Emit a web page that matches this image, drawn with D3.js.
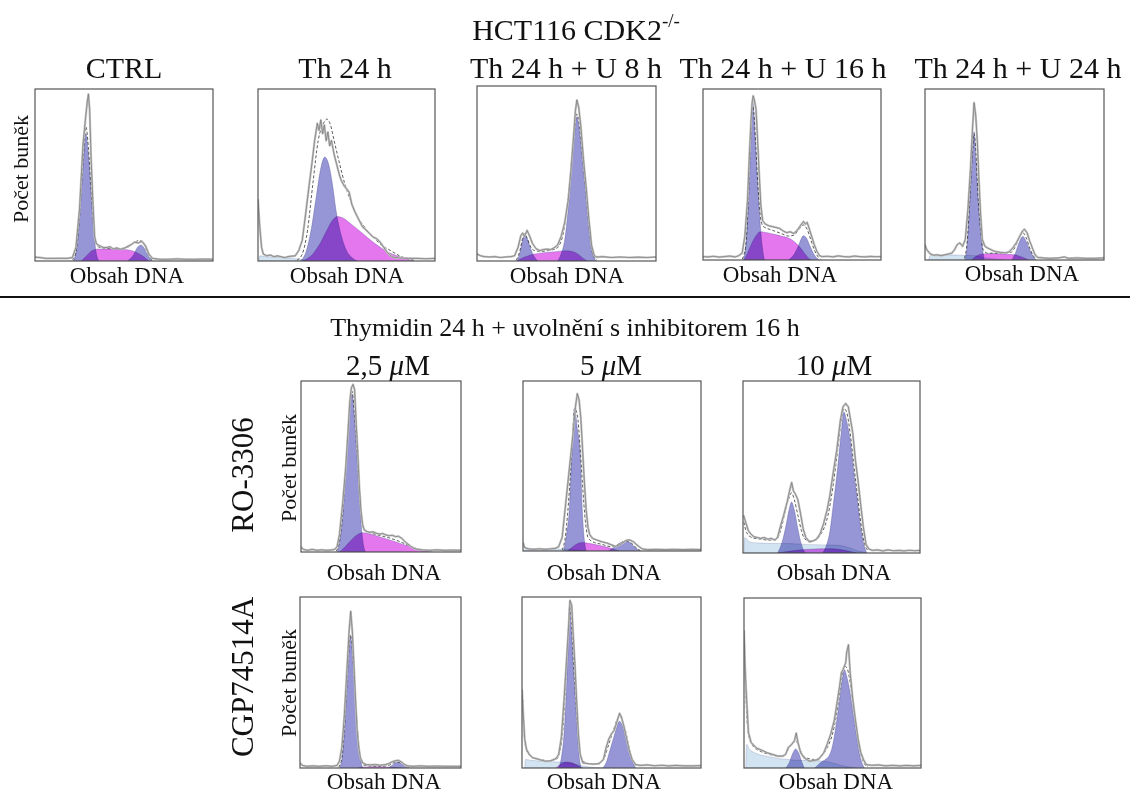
<!DOCTYPE html>
<html>
<head>
<meta charset="utf-8">
<script src="https://cdn.jsdelivr.net/npm/d3@7"></script>
<style>
  html, body { margin: 0; padding: 0; background: #fff; }
  svg { display: block; }
</style>
</head>
<body>
<script>
// ---------------- DATA (DNA content 0-100 on x, cell count 0-100 % of panel height on y) ----------------
const mainTitle = "HCT116 CDK2";
const mainTitleSup = "-/-";
const topTitles = ["CTRL", "Th 24 h", "Th 24 h + U 8 h", "Th 24 h + U 16 h", "Th 24 h + U 24 h"];
const sectionTitle = "Thymidin 24 h + uvolnění s inhibitorem 16 h";
const doseLabels = ["2,5", "5", "10"];
const doseUnit = "M";
const rowLabels = ["RO-3306", "CGP74514A"];
const xLabel = "Obsah DNA";
const yLabel = "Počet buněk";

// CTRL
const rawCtrl = [[0,2.2],[3,2],[6,1.5],[10,1.5],[14,1.6],[18,1.5],[21,2],[23,8],[25,30],[27,68],[28.5,84],[29.3,92],[30,97],[30.7,88],[31.5,60],[32.5,35],[33.5,14],[34.5,10],[36,9],[38,8],[40,7.8],[42,8.3],[44,7],[46,7.6],[48,6.8],[50,7.3],[52,8.5],[54,9.5],[56,11],[58,10.5],[60,11.5],[62,9],[64,4],[66,1.5],[70,1],[75,1],[80,1.2],[85,1],[90,1],[95,1.1],[100,1]];
const fitCtrl = [[21,0.5],[23,5],[25,25],[27,58],[28.6,78],[30,66],[31.5,42],[33,20],[34.5,10],[36,8],[45,7],[52,8],[56,11],[59,12],[62,8],[64,3],[66,0.5]];
const g1Ctrl = [[21.5,0],[23,5],[25,25],[27,55],[28.6,74],[30,62],[31.5,40],[33,18],[34.5,4],[36,0]];
const sCtrl = [[26,0],[29,3],[32,6],[36,7],[45,7],[52,6.5],[57,5],[61,2.5],[64,0]];
const g2Ctrl = [[52,0],[55,3],[58,8.5],[59.5,9.3],[61,8],[63.5,3],[66,0]];
const debCtrl = [];

// Th 24 h
const rawTh24 = [[0,36],[1,20],[2,8],[3,4],[5,3],[7,3.5],[9,2.5],[11,3],[13,2.5],[15,2],[17,2.5],[19,2.8],[21,3],[23,6],[25,12],[27,28],[29,45],[30.5,57],[32,70],[33.5,80],[34.5,76],[35.5,82],[36.5,74],[37.5,79],[38.5,70],[39.5,75],[40.5,67],[41.5,70],[43,62],[44.5,56],[46,50],[47,47],[48.5,44],[50,42],[51.5,40],[53,33],[55,28],[57,24],[59,20],[61,18],[63,16],[65,14],[67,13],[69,11],[71,8],[73,5],[75,3],[77,2],[80,1.8],[85,1.5],[90,1.5],[95,1.3],[100,1.5]];
const fitTh24 = [[22,0.5],[25,4],[28,18],[31,45],[34,70],[37,80],[39,82.5],[41,79],[43,70],[46,57],[49,45],[52,36],[56,26],[60,20],[65,14],[70,9],[75,6],[80,3],[88,0.5]];
const g1Th24 = [[24,0],[27,5],[30,18],[33,38],[35.5,54],[37.7,60.4],[40,56],[42,45],[44,30],[47,15],[50,6],[53,2],[56,0]];
const sTh24 = [[25,0],[30,3],[35,10],[39,18],[42,23.5],[44.7,25.8],[48,25],[52,22],[58,17],[65,11],[72,6],[80,2.5],[88,0]];
const g2Th24 = [];
const debTh24 = [[0.5,0],[1,3],[5,2.5],[12,2],[20,1.5],[25,0.8],[28,0]];

// Th 24 h + U 8 h
const rawU8 = [[0,4],[2,3],[4,2.5],[7,2.3],[10,2.5],[13,2],[16,2.3],[19,2.5],[21,3],[23,8],[24.5,14.5],[25.5,16],[26.5,14],[28,17.5],[29.5,14],[31,10],[33,7],[35,6],[37,6.5],[39,6.8],[41,6.5],[43,7.5],[45,9],[47,14],[49,22],[51,35],[52.5,52],[54,72],[55,86],[55.8,92],[56.8,88],[58,77],[59.5,58],[61,42],[62.5,24],[64,9],[65.5,3],[67,2.2],[70,2.5],[75,2],[80,2.3],[85,2],[90,2.2],[95,2],[100,2.3]];
const fitU8 = [[22,0.5],[24,6],[25.5,13],[26.5,15.5],[28,13],[30,8],[32,6],[36,5.5],[40,6],[44,7],[46,9],[48,15],[50,28],[52,48],[54,70],[55.8,84],[57,79],[58.5,64],[60.5,43],[62,26],[63.5,11],[65,3],[67,0.5]];
const g1U8 = [[22.5,0],[24,5],[25.5,12],[26.5,15.6],[28,13],[30,7],[32,2.5],[34,0]];
const sU8 = [[22,0],[26,2],[30,3.5],[35,4.5],[40,5],[45,5.5],[50,5.8],[54,5.2],[57,3.5],[60,1],[62,0]];
const g2U8 = [[45,0],[47,4],[49,12],[51,30],[53,55],[54.5,72],[55.8,82.4],[57,76],[58.5,62],[60.5,42],[62,25],[63.5,10],[65,3],[66.5,0]];
const debU8 = [];

// Th 24 h + U 16 h
const rawU16 = [[0,2],[3,1.8],[6,2.2],[9,1.7],[12,2],[15,2.3],[18,1.8],[20,2.5],[22,4],[23.5,14],[25,35],[26,60],[27,82],[27.6,92],[28.2,96],[29,93],[29.8,88],[30.5,74],[31.5,52],[32.5,32],[33.5,23],[35,21],[37,20],[39,19.5],[41,19],[43,18.5],[45,17],[47,16],[49,16.5],[51,15.5],[53,17.5],[55,20.5],[56.5,22.5],[57.5,21],[58.5,22],[59.5,19],[61,14],[62.5,9],[64,5],[65.5,2.5],[67,2],[70,2.2],[73,1.8],[76,2.4],[79,2],[82,1.8],[85,2.3],[88,2],[91,1.8],[94,2.1],[97,1.9],[100,2]];
const fitU16 = [[22,0.5],[24,8],[25.5,35],[26.8,70],[27.8,90],[28.6,86],[29.6,68],[30.8,45],[32,28],[33.5,20],[36,18.5],[40,17],[44,15.5],[48,14],[51,14.5],[54,18],[56.4,20.5],[58.5,18],[60.5,12],[62.5,6],[64.5,2],[66,0.5]];
const g1U16 = [[22.5,0],[24,8],[25.5,35],[26.8,70],[27.9,93.6],[28.8,82],[29.8,62],[31,40],[32.2,20],[33.5,6],[34.5,0]];
const sU16 = [[23,0],[25,4],[27.5,10],[30,14.5],[32,16.5],[36,16],[40,15],[44,14],[48,12.8],[51,11],[54,8],[57,4],[60,0.5],[61,0]];
const g2U16 = [[48,0],[51,3],[53.5,8],[55,12],[56.4,14.2],[58,13],[60,8.5],[62,4],[64,1],[65.5,0]];
const debU16 = [];

// Th 24 h + U 24 h
const rawU24 = [[0,9],[1,6],[3,3.5],[5,2.8],[7,3],[9,2.5],[11,3],[13,3.5],[15,4],[16.5,6],[18,9],[19.5,10],[21,8],[22.5,12],[24,30],[25.5,55],[26.5,76],[27.4,92],[28.3,85],[29.2,70],[30,50],[31,28],[32,12],[33.5,8],[35,7],[37,6],[39,5],[42,4.5],[45,4.2],[47,4.8],[49,7],[51,10],[53,14],[54.5,17],[55.5,18],[57,16],[58.5,11],[60,7],[61.5,3],[63,1.5],[66,1.2],[70,1],[75,1.3],[78,1.8],[80,1],[85,1.2],[90,1],[95,1],[100,1.2]];
const fitU24 = [[22,1],[23.5,10],[25,35],[26.5,62],[27.4,74],[28.5,62],[29.5,40],[31,18],[32.5,6],[35,4],[42,4],[48,4.5],[51,9],[53,14],[54.6,16],[56.5,13],[58.5,7],[60.5,2.5],[62.5,0.5]];
const g1U24 = [[22.3,0],[23.5,8],[24.8,30],[26,55],[27.4,75],[28.5,58],[29.8,35],[31,18],[32,8],[33,0]];
const sU24 = [[26,0],[29,2.5],[32,3.5],[38,3.8],[44,3.5],[50,3],[54,1.8],[57,0.5],[58,0]];
const g2U24 = [[48.5,0],[50.5,4],[52.5,10],[54.6,13.8],[56.5,11],[58.5,6],[60.5,2],[62,0]];
const debU24 = [[2,0],[3,2.8],[10,3],[20,2.8],[28,2.5],[32,1.5],[40,0.5],[45,0]];

// RO-3306 2,5 uM
const rawRo25 = [[0,3],[1.5,1.5],[4,1],[7,1.5],[10,1],[13,1.3],[16,1],[19,1.2],[21,1.5],[22.5,3],[24,10],[26,28],[28,50],[29.5,72],[30.5,88],[31.5,96],[32.5,98],[33.5,95],[34.5,75],[35.5,58],[36.5,38],[37.5,24],[38.5,16],[39.5,13],[41,12],[43,11.5],[45,11.8],[47,11],[49,10.5],[51,10.8],[53,10],[55,9.5],[57,9.8],[59,9],[61,9.2],[63,8],[65,6],[67,4.5],[69,3],[71,2],[73,1.5],[76,1.2],[80,1],[85,1.2],[90,1],[95,1.1],[100,1]];
const fitRo25 = [[22,0.5],[24,6],[26,22],[28,50],[30,80],[31.9,94],[33.3,82],[35,58],[36.5,35],[38,18],[40,12.5],[44,11],[50,9.5],[56,8],[62,6],[68,3.5],[74,1.5],[80,0.5]];
const g1Ro25 = [[22.5,0],[24,5],[26,20],[28,47],[30,78],[31.9,92.6],[33.3,80],[35,55],[36.5,32],[38,12],[39.5,2],[40.5,0]];
const sRo25 = [[24,0],[27,2.5],[30,5.5],[33,8.5],[36,10.5],[38.5,11.3],[42,10.8],[47,9.5],[53,7.8],[59,6],[66,3.8],[72,2],[78,0.8],[82,0]];
const g2Ro25 = [];
const debRo25 = [];

// RO-3306 5 uM
const rawRo5 = [[0,5],[1,2],[3,1.3],[6,1],[9,1.3],[12,1],[15,1.2],[18,1.5],[20,2.5],[22,8],[24,28],[26,48],[28,68],[29.5,85],[30.5,92.6],[31.5,89],[32.5,78],[33.5,59],[34.5,40],[35.5,24],[36.5,14],[37.5,9.6],[39,7.5],[41,6.6],[44,5.5],[47,4.7],[50,3.5],[52,2.7],[54,3.5],[56,4.7],[58,6.3],[60,6.5],[62,5.5],[63.5,4],[65,2.7],[67,1.2],[70,0.8],[75,1],[80,0.8],[85,1],[90,0.8],[95,1],[100,0.8]];
const fitRo5 = [[22,0.5],[24,10],[26,35],[27.5,60],[29,84],[30.5,80],[32,62],[33.5,38],[35,18],[36.5,8],[39,5.5],[44,4],[50,2.5],[54,4],[57.5,5.8],[61,4.5],[64,1.5],[66,0.3]];
const g1Ro5 = [[22.8,0],[24.5,10],[26,24],[27.5,59],[29,83.8],[30.5,72],[32,59],[33.5,20],[34.5,6],[35.5,0]];
const sRo5 = [[25,0],[28,2.5],[31,4.5],[33.5,5],[37,4.5],[42,3.5],[47,2.3],[51,1],[54,0]];
const g2Ro5 = [[48,0],[51,2],[54,4.5],[57.5,5.7],[60,5],[62.5,2.5],[65,0.5],[66,0]];
const debRo5 = [[0.5,0],[2,1.2],[10,1.5],[20,1.2],[28,0.8],[35,0]];

// RO-3306 10 uM
const rawRo10 = [[0.3,22],[1.5,18],[3,13],[4.5,11],[6,9.5],[8,9],[10,8.5],[12,9],[14,8],[16,8.5],[18,7.5],[19.5,9],[21,15],[23,22],[25,30],[26.5,37],[27.5,41],[28.5,36],[29.5,34.5],[31,31],[32.5,23],[34,14],[35.5,9],[37.5,6.5],[39.5,7],[41.5,8],[43.5,11],[45.5,17],[47.5,25],[49,33],[51,47],[53,60],[55,77],[56.5,85],[58,87],[59.5,85],[60.5,79],[62,70],[63.5,54],[65,42],[66.5,28],[68,15],[69.5,5],[71,2.5],[73,1.5],[76,1.8],[79,1.2],[82,1.8],[85,1.3],[88,1.5],[91,1.2],[94,1.6],[97,1.3],[100,1.5]];
const fitRo10 = [[0.5,18],[2,12],[5,9],[10,8],[15,7.5],[19,8],[21.5,14],[24,25],[26,32],[27.4,35],[29,31],[31,22],[33,13],[35,8],[38,7],[41,7.5],[44,11],[47,18],[49,27],[51,40],[53.5,60],[55.5,77],[57,84],[58.5,82],[60.5,70],[62.5,52],[64.5,35],[66.5,18],[68.5,6],[70.5,1.5]];
const g1Ro10 = [[19.5,0],[22,6],[24.5,17],[26,25],[27.4,29.7],[29,25],[31,14],[33,5],[35,0]];
const sRo10 = [[20,0],[26,1],[32,1.8],[38,2.2],[44,2.5],[50,2.5],[55,2],[60,1],[64,0]];
const g2Ro10 = [[45,0],[47,4],[49,12],[51,28],[53.5,50],[55.5,70],[57,82],[58.5,77],[60.5,66],[62.5,48],[64.5,32],[66.5,15],[68.5,4],[70,0]];
const debRo10 = [[0.5,0],[1,9],[3,7],[6,6],[10,5.8],[15,5.5],[20,5.5],[25,5.5],[30,5.3],[35,5],[40,4.8],[45,4.7],[50,4.6],[55,4.3],[60,3],[64,1.5],[68,0.5],[70,0]];

// CGP74514A 2,5 uM
const rawCgp25 = [[0,3],[1.5,1.5],[4,1],[8,1.2],[12,1],[16,1.3],[20,1],[23,1.5],[24.5,4],[26,12],[27.5,30],[29,55],[30.5,80],[31.5,91.6],[32.5,80],[33.5,60],[34.5,40],[35.5,22],[36.5,12],[37.5,6],[39,3],[41,2],[44,1.8],[47,2],[50,1.6],[53,2],[55,2.5],[57,3.5],[59,4.2],[61,4.5],[63,3.5],[65,2],[67,1.2],[70,1],[75,1.2],[80,1],[85,1.1],[90,1],[95,1],[100,1]];
const fitCgp25 = [[24,0.5],[26,6],[27.5,22],[28.8,44],[30,64],[31.3,78],[32.5,70],[33.8,50],[35.3,28],[36.8,11],[38,4],[40,1.5],[50,1],[55,1.5],[60,3.5],[63,3],[66,1],[68,0.3]];
const g1Cgp25 = [[24.5,0],[26,5],[27.5,20],[28.8,42],[30,62],[31.3,77],[32.5,68],[33.8,48],[35.3,27],[36.8,10],[38,3],[39,0]];
const sCgp25 = [[36,0],[40,0.6],[48,0.8],[54,0.6],[60,0.3],[63,0]];
const g2Cgp25 = [[55,0],[57.5,1.8],[60,3.2],[61,3.3],[63,2.5],[65,1],[67,0]];
const debCgp25 = [];

// CGP74514A 5 uM
const rawCgp5 = [[0,46],[0.8,30],[1.5,17],[2.5,11],[4,8],[6,6],[8,5.5],[10,4.8],[13,4],[16,4.2],[19,5.5],[20.5,8],[22,18],[23.5,40],[25,65],[26,82],[26.8,98],[27.8,95],[28.5,80],[29.5,62],[30.5,40],[31.5,20],[32.5,8],[34,3],[37,2.5],[40,2.3],[43,2.5],[45.5,5],[47,12],[48.5,17],[50,20],[51.5,22],[53,27],[54.5,32],[55.5,30],[57,24],[58.5,17],[60,10],[61.5,5],[63.5,2],[66,1.5],[70,1.8],[74,1.3],[78,1.6],[82,1.2],[86,1.5],[90,1.3],[95,1.2],[100,1.4]];
const fitCgp5 = [[0.5,40],[1.5,16],[3,9],[6,6],[10,5],[15,4.2],[19,5],[21,9],[23,25],[24.5,52],[25.8,80],[26.7,96],[27.6,85],[29,58],[30.5,32],[32,12],[34,4],[38,2.5],[43,2.8],[46,6],[48.5,14],[51,22],[53,28],[54.5,30.5],[56,28],[58,21],[60,11],[62,4],[64,1]];
const g1Cgp5 = [[20.5,0],[22,6],[23.5,20],[25,50],[26,78],[26.7,95],[27.5,82],[29,55],[30.5,28],[31.8,8],[33,0]];
const sCgp5 = [[19,0],[22,2.5],[25,3.5],[28,3],[31,1.5],[34,0]];
const g2Cgp5 = [[45,0],[47,3],[49,10],[51,17],[53,24],[54.4,27.3],[56,25],[58,18],[60,9],[62,3],[63.5,0]];
const debCgp5 = [[1.5,0],[2,5],[5,4.5],[10,4],[15,3.8],[20,3.5],[25,3],[30,2],[35,1],[40,0.3],[45,0]];

// CGP74514A 10 uM
const rawCgp10 = [[0,81],[0.6,60],[1.2,46],[2.5,21],[4,15],[7,11.8],[10,10.5],[13,9],[16,8],[19,7],[22,7],[23.5,8],[25,12],[27,14],[28.5,16],[29.5,20.5],[30.5,15],[32,9],[34,6],[37,4],[40,4.5],[42,5],[45,8.8],[47,14],[49,20],[51,28],[52.5,38],[54,48],[55,56],[56,58],[57.5,62],[58,68],[59,72.5],[60,56],[61.5,40],[63,28],[64.5,17],[66,9],[67.5,5],[69,2],[72,1.6],[76,1.8],[80,1.3],[84,1.6],[88,1.2],[92,1.5],[96,1.3],[100,1.5]];
const fitCgp10 = [[0.3,75],[1,45],[2.5,20],[5,13],[10,9.5],[15,7.8],[20,7],[23,8],[26,12.5],[28,15],[29.2,16],[30.5,14],[32.5,9],[35,6],[40,5],[44,7],[47,12],[50,20],[52,30],[54,44],[55.5,55],[57,60],[58.5,58],[60,50],[62,34],[64,19],[66,8],[68,2.5],[70,0.5]];
const g1Cgp10 = [[23.5,0],[25.5,3],[27.5,8.5],[29.2,11.2],[31,8.5],[32.5,4],[34,0]];
const sCgp10 = [];
const g2Cgp10 = [[40,0],[43,3],[46,5],[48,7],[50,13],[52,25],[54,40],[55.5,52],[56.7,57.8],[58,54],[60,44],[62,30],[64,16],[65.5,7],[67,2],[68,0]];
const debCgp10 = [[1,0],[1.5,14],[3,11],[6,9],[10,7.5],[15,6.5],[20,5.5],[25,5],[30,4.5],[35,4.5],[40,4.3],[45,4],[50,3],[55,1.5],[60,0.5],[63,0]];

// ---------------- LAYOUT ----------------
const FONT = "'Liberation Serif','Times New Roman',serif";
const COL = { g: "#9696d6", s: "#e476ee", deb: "#d2e4f1", edge: "#3c3c86" };

const panels = [
  { box: [35, 89, 213, 261],  d: [rawCtrl, fitCtrl, g1Ctrl, sCtrl, g2Ctrl, debCtrl], title: topTitles[0], tx: 124, lx: 127, ly: 283 },
  { box: [258, 89, 435, 261], d: [rawTh24, fitTh24, g1Th24, sTh24, g2Th24, debTh24], title: topTitles[1], tx: 345, lx: 347, ly: 283 },
  { box: [477, 86, 656, 261], d: [rawU8, fitU8, g1U8, sU8, g2U8, debU8], title: topTitles[2], tx: 566, lx: 567, ly: 283 },
  { box: [703, 89, 881, 260], d: [rawU16, fitU16, g1U16, sU16, g2U16, debU16], title: topTitles[3], tx: 783, lx: 780, ly: 282 },
  { box: [925, 89, 1104, 260], d: [rawU24, fitU24, g1U24, sU24, g2U24, debU24], title: topTitles[4], tx: 1018, lx: 1022, ly: 281 },
  { box: [301, 381, 461, 552], d: [rawRo25, fitRo25, g1Ro25, sRo25, g2Ro25, debRo25], lx: 384, ly: 580 },
  { box: [523, 381, 701, 551], d: [rawRo5, fitRo5, g1Ro5, sRo5, g2Ro5, debRo5], lx: 604, ly: 580 },
  { box: [743, 381, 920, 553], d: [rawRo10, fitRo10, g1Ro10, sRo10, g2Ro10, debRo10], lx: 834, ly: 580 },
  { box: [300, 597, 461, 768], d: [rawCgp25, fitCgp25, g1Cgp25, sCgp25, g2Cgp25, debCgp25], lx: 384, ly: 789 },
  { box: [522, 597, 701, 768], d: [rawCgp5, fitCgp5, g1Cgp5, sCgp5, g2Cgp5, debCgp5], lx: 604, ly: 789 },
  { box: [744, 598, 921, 768], d: [rawCgp10, fitCgp10, g1Cgp10, sCgp10, g2Cgp10, debCgp10], lx: 836, ly: 789 }
];

const svg = d3.select("body").append("svg")
  .attr("width", 1130).attr("height", 793)
  .attr("font-family", FONT);
svg.append("rect").attr("width", 1130).attr("height", 793).attr("fill", "#fff");
const defs = svg.append("defs");

panels.forEach((p, i) => {
  const [x0, y0, x1, y1] = p.box;
  const x = d3.scaleLinear().domain([0, 100]).range([x0, x1]);
  const y = d3.scaleLinear().domain([0, 100]).range([y1, y0]);
  const [raw, fit, g1, s, g2, deb] = p.d;

  defs.append("clipPath").attr("id", "clip" + i)
    .append("rect").attr("x", x0).attr("y", y0).attr("width", x1 - x0).attr("height", y1 - y0);

  const g = svg.append("g").attr("clip-path", `url(#clip${i})`);
  const area = d3.area().x(d => x(d[0])).y0(y(0)).y1(d => y(d[1])).curve(d3.curveMonotoneX);
  const smooth = d3.line().x(d => x(d[0])).y(d => y(d[1])).curve(d3.curveMonotoneX);
  const jag = d3.line().x(d => x(d[0])).y(d => y(d[1])).curve(d3.curveLinear);

  const comps = [[deb, COL.deb, 0.35], [s, COL.s, 0.5], [g1, COL.g, 0.6], [g2, COL.g, 0.6]];
  comps.forEach(([arr, col, sw]) => {
    if (!arr.length) return;
    g.append("path").datum(arr).attr("d", area)
      .attr("fill", col).attr("stroke", COL.edge).attr("stroke-width", sw).attr("stroke-opacity", 0.55)
      .style("mix-blend-mode", "multiply");
  });

  g.append("path").datum(fit).attr("d", smooth)
    .attr("fill", "none").attr("stroke", "#333").attr("stroke-width", 0.8).attr("stroke-dasharray", "3,2");
  g.append("path").datum(raw).attr("d", jag)
    .attr("fill", "none").attr("stroke", "#c4c4c4").attr("stroke-width", 2.2).attr("stroke-linejoin", "round");
  g.append("path").datum(raw).attr("d", jag)
    .attr("fill", "none").attr("stroke", "#6a6a6a").attr("stroke-width", 0.6).attr("stroke-linejoin", "round");

  svg.append("rect").attr("x", x0).attr("y", y0).attr("width", x1 - x0).attr("height", y1 - y0)
    .attr("fill", "none").attr("stroke", "#555").attr("stroke-width", 1.2);

  svg.append("text").attr("x", p.lx).attr("y", p.ly).attr("text-anchor", "middle")
    .attr("font-size", 23).attr("fill", "#111").text(xLabel);

  if (p.title) {
    svg.append("text").attr("x", p.tx).attr("y", 78).attr("text-anchor", "middle")
      .attr("font-size", 30).attr("fill", "#111").text(p.title);
  }
});

// Main title with superscript
const mt = svg.append("text").attr("x", 576).attr("y", 40).attr("text-anchor", "middle")
  .attr("font-size", 30).attr("fill", "#111");
mt.append("tspan").text(mainTitle);
mt.append("tspan").attr("dy", -13).attr("font-size", 19).text(mainTitleSup);

// Y labels
[[28, 169], [296, 468], [296, 683]].forEach(([tx, ty]) => {
  svg.append("text").attr("transform", `translate(${tx},${ty}) rotate(-90)`)
    .attr("text-anchor", "middle").attr("font-size", 22).attr("fill", "#111").text(yLabel);
});

// Divider
svg.append("line").attr("x1", 0).attr("x2", 1130).attr("y1", 297).attr("y2", 297)
  .attr("stroke", "#111").attr("stroke-width", 2);

// Section title
svg.append("text").attr("x", 565).attr("y", 336).attr("text-anchor", "middle")
  .attr("font-size", 26).attr("fill", "#111").text(sectionTitle);

// Dose titles
[388, 611, 834].forEach((cx, i) => {
  const t = svg.append("text").attr("x", cx).attr("y", 375).attr("text-anchor", "middle")
    .attr("font-size", 29).attr("fill", "#111");
  t.append("tspan").text(doseLabels[i] + " ");
  t.append("tspan").attr("font-style", "italic").text("\u03bc");
  t.append("tspan").text(doseUnit);
});

// Row labels
[[253, 475], [253, 677]].forEach(([tx, ty], i) => {
  svg.append("text").attr("transform", `translate(${tx},${ty}) rotate(-90)`)
    .attr("text-anchor", "middle").attr("font-size", 31).attr("fill", "#111").text(rowLabels[i]);
});
</script>
</body>
</html>
